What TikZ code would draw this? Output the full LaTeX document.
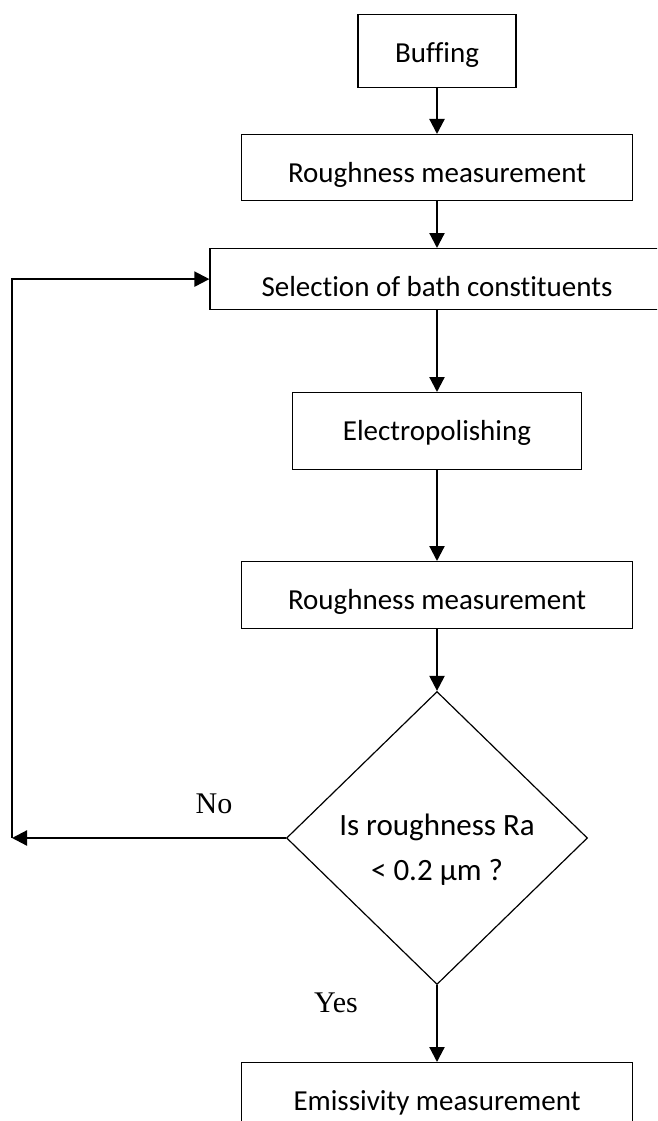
\documentclass[tikz,border=0pt]{standalone}
\usepackage{fontspec}
\setmainfont{Carlito}[Ligatures = NoCommon]
\newfontfamily\answerfont{Liberation Serif}
\usetikzlibrary{arrows.meta, shapes.geometric}

\begin{document}
\begin{tikzpicture}[x = 1pt, y = -1pt,
	box/.style = {draw, line width = 1.2pt, anchor = north, inner xsep = 0pt, inner ysep = 0pt, text height = 48pt, font = \fontsize{29}{35}\selectfont},
	decision/.style = {draw, diamond, line width = 1.2pt, inner sep = 0pt, minimum width = 301pt, minimum height = 293pt, align = center, text height = 88pt, text depth = 4pt, font = \fontsize{31}{45}\selectfont},
	flow/.style = {-{Triangle[length = 15pt, width = 15pt]}, line width = 2.2pt},
	answer/.style = {anchor = base, inner sep = 0pt, font = \answerfont\fontsize{30}{36}\selectfont}]
	%	page
	\useasboundingbox (0, 0) rectangle (657, 1121);
	\clip (0, 0) rectangle (657, 1121);
	
	%	steps
	\node[box, minimum width = 158pt, text depth = 25pt] (buff) at (437, 14) {Buffing};
	\node[box, minimum width = 391pt, text depth = 18pt] (rough1) at (437, 134) {Roughness measurement};
	\node[box, minimum width = 454pt, text depth = 13pt] (select) at (437, 248) {Selection of bath constituents};
	\node[box, minimum width = 289pt, text depth = 29pt] (elec) at (437, 392) {Electropolishing};
	\node[box, minimum width = 391pt, text depth = 19pt] (rough2) at (437, 561) {Roughness measurement};
	\node[decision] (decide) at (437, 838) {Is roughness Ra\\< 0.2 µm ?};
	\node[box, minimum width = 391pt, text depth = 18pt] (emiss) at (437, 1062) {Emissivity measurement};
	
	%	answers
	\node[answer] (no) at (214, 813) {No};
	\node[answer] (yes) at (336, 1012) {Yes};
	\coordinate (ret) at (12, 838);
	
	%	arrows
	\draw[flow] (buff) -- (rough1);
	\draw[flow] (rough1) -- (select);
	\draw[flow] (select) -- (elec);
	\draw[flow] (elec) -- (rough2);
	\draw[flow] (rough2) -- (decide);
	\draw[flow] (decide) -- (emiss);
	\draw[flow] (decide) -- (ret);
	\draw[flow] (ret) |- (select);
\end{tikzpicture}
\end{document}
